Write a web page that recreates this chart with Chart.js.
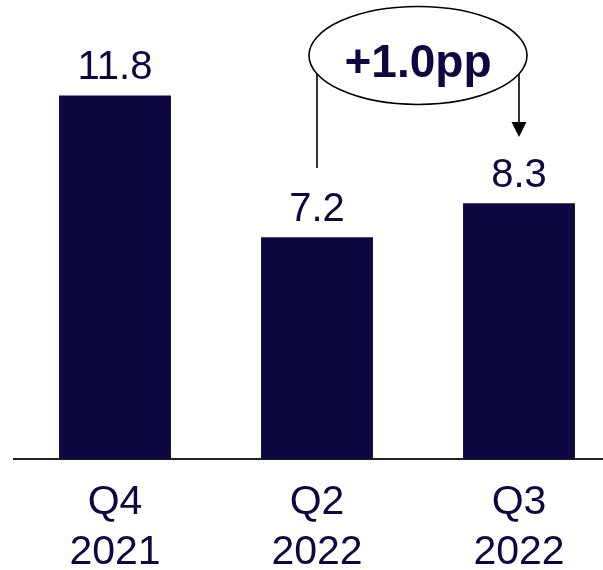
<!DOCTYPE html>
<html lang="en">
<head>
  <meta charset="UTF-8" />
  <title>Quarterly change</title>
  <script src="https://cdn.jsdelivr.net/npm/chart.js"></script>
  <style>
    body {
      margin: 0;
      background: #ffffff;
      overflow: hidden;
    }
    .wrap {
      width: 603px;
      height: 570px;
      overflow: hidden;
    }
    canvas {
      display: block;
    }
  </style>
</head>
<body>
  <div class="wrap">
    <canvas id="chart" width="620" height="570"></canvas>
  </div>

  <script>
    const quarters = [['Q4', '2021'], ['Q2', '2022'], ['Q3', '2022']];
    const values = [11.8, 7.2, 8.3];
    const changeLabel = '+1.0pp';

    const navy = '#0e0842';
    const fontFamily = "'Liberation Sans', Arial, sans-serif";

    // value labels above each bar
    const barLabels = {
      id: 'barLabels',
      afterDatasetsDraw(chart) {
        const ctx = chart.ctx;
        const meta = chart.getDatasetMeta(0);
        ctx.save();
        ctx.font = '40px ' + fontFamily;
        ctx.fillStyle = navy;
        ctx.textAlign = 'center';
        ctx.textBaseline = 'alphabetic';
        meta.data.forEach((bar, i) => {
          ctx.fillText(values[i].toFixed(1), bar.x, bar.y - 16);
        });
        ctx.restore();
      }
    };

    // ellipse with connector from Q2 to Q3
    const changeCallout = {
      id: 'changeCallout',
      afterDatasetsDraw(chart) {
        const ctx = chart.ctx;
        const xs = chart.scales.x;
        const ys = chart.scales.y;
        const x2 = xs.getPixelForValue(1);
        const x3 = xs.getPixelForValue(2);
        const cx = (x2 + x3) / 2;
        const cy = ys.getPixelForValue(13.1);
        const rx = 109, ry = 49;
        const edge = x => cy + ry * Math.sqrt(Math.max(0, 1 - Math.pow((x - cx) / rx, 2)));

        ctx.save();
        ctx.strokeStyle = '#000';
        ctx.lineWidth = 1.6;

        ctx.beginPath();
        ctx.ellipse(cx, cy, rx, ry, 0, 0, Math.PI * 2);
        ctx.stroke();

        const leftEnd = ys.getPixelForValue(9.45);
        ctx.beginPath();
        ctx.moveTo(x2, edge(x2));
        ctx.lineTo(x2, leftEnd);
        ctx.stroke();

        const tip = ys.getPixelForValue(10.45);
        ctx.beginPath();
        ctx.moveTo(x3, edge(x3));
        ctx.lineTo(x3, tip - 12);
        ctx.stroke();

        ctx.fillStyle = '#000';
        ctx.beginPath();
        ctx.moveTo(x3 - 7.5, tip - 15);
        ctx.lineTo(x3 + 7.5, tip - 15);
        ctx.lineTo(x3, tip);
        ctx.closePath();
        ctx.fill();

        ctx.font = 'bold 46px ' + fontFamily;
        ctx.fillStyle = navy;
        ctx.textAlign = 'center';
        ctx.textBaseline = 'alphabetic';
        ctx.fillText(changeLabel, cx, cy + 22);
        ctx.restore();
      }
    };

    new Chart(document.getElementById('chart'), {
      type: 'bar',
      data: {
        labels: quarters,
        datasets: [{
          data: values,
          backgroundColor: navy,
          borderWidth: 0,
          barPercentage: 0.554,
          categoryPercentage: 1
        }]
      },
      options: {
        responsive: false,
        animation: false,
        layout: {
          padding: { left: 14, right: 0, top: 0, bottom: 0 }
        },
        plugins: {
          legend: { display: false },
          tooltip: { enabled: false }
        },
        scales: {
          x: {
            grid: { display: false },
            border: { display: true, color: '#222', width: 2 },
            ticks: {
              color: navy,
              padding: 11,
              font: { family: fontFamily, size: 41, lineHeight: 1.22 }
            },
            afterFit(scale) {
              scale.height = 111;
            }
          },
          y: {
            display: false,
            min: 0,
            max: 14.9
          }
        }
      },
      plugins: [barLabels, changeCallout]
    });
  </script>
</body>
</html>
